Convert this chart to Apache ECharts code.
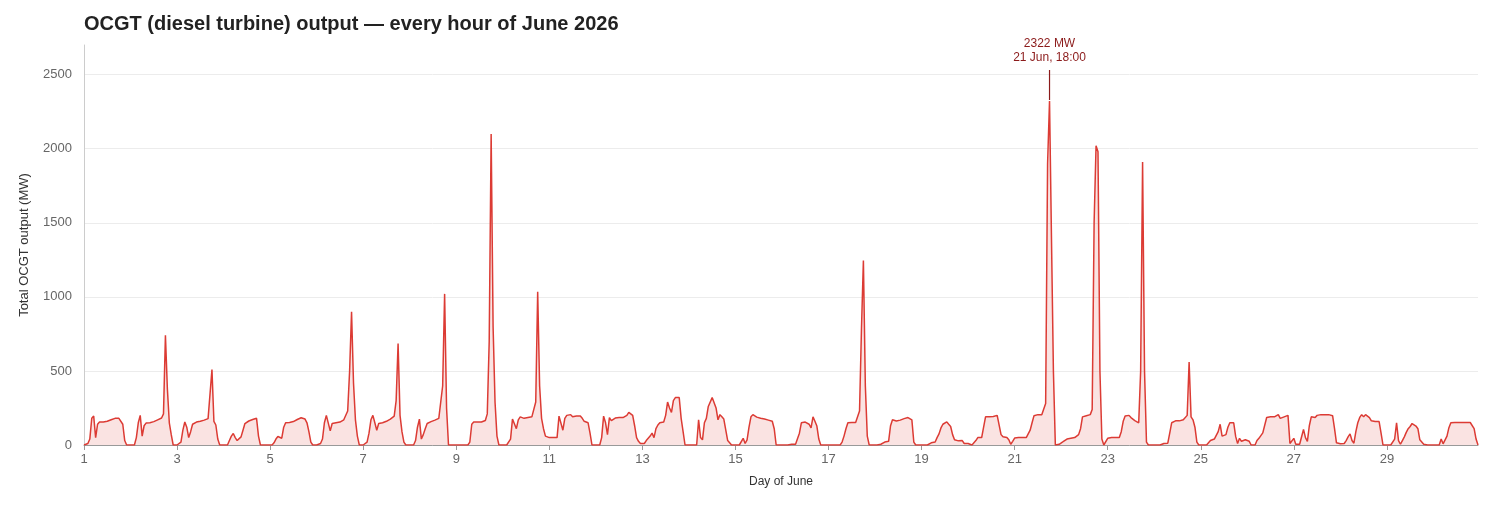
<!DOCTYPE html>
<html>
<head>
<meta charset="utf-8">
<title>OCGT output - June 2026</title>
<script src="https://cdn.jsdelivr.net/npm/echarts@6/dist/echarts.min.js"></script>
<style>
  html, body { margin: 0; padding: 0; background: #fff; }
  #ocgt-chart { width: 1496px; height: 505px; }
</style>
</head>
<body>
<div id="ocgt-chart"></div>
<script>
// total OCGT output, MW, one array per day (hours 00:00 .. 23:00)
const jun01 = [0,0,10,40,180,195,50,140,155,155,155,160,160,165,170,175,180,184,180,170,140,30,0,0];
const jun02 = [0,0,0,50,150,200,60,130,148,150,150,155,158,160,170,175,182,210,740,380,150,70,0,0];
const jun03 = [0,0,20,100,155,120,50,90,140,150,155,155,160,165,168,172,178,185,510,160,135,40,0,0];
const jun04 = [0,0,0,30,60,78,50,30,25,55,100,145,155,162,168,172,180,180,60,0,0,0,0,0];
const jun05 = [0,0,15,40,57,52,46,120,150,150,152,152,158,165,172,180,184,180,175,150,90,20,0,0];
const jun06 = [0,0,10,40,150,200,190,95,145,150,150,152,155,165,170,180,230,500,900,420,170,60,0,0];
const jun07 = [0,0,20,80,170,200,150,100,145,150,150,155,160,168,175,180,195,300,685,200,90,20,0,0];
const jun08 = [0,0,0,30,120,175,40,70,110,145,155,158,165,168,172,180,190,400,1020,250,0,0,0,0];
const jun09 = [0,0,0,0,0,0,0,20,140,155,155,155,155,155,158,165,210,700,2100,800,290,60,0,0];
const jun10 = [0,0,0,0,40,175,170,110,170,190,185,180,190,185,185,190,200,290,1035,400,180,110,60,50];
const jun11 = [50,50,50,50,50,195,200,100,180,200,205,205,190,180,195,200,195,180,160,155,150,80,0,0];
const jun12 = [0,10,0,50,195,150,70,185,165,170,182,178,185,198,185,175,200,220,210,200,130,50,25,10];
const jun13 = [0,10,30,40,60,80,50,110,135,150,152,155,200,290,250,220,300,320,325,320,180,90,0,0];
const jun14 = [0,0,0,0,0,170,50,35,150,180,260,255,320,320,250,170,205,190,175,165,30,30,0,0];
const jun15 = [0,0,0,0,45,10,35,120,190,205,195,188,182,180,178,175,172,168,165,160,110,0,0,0];
const jun16 = [0,0,0,0,0,5,8,5,0,80,150,155,155,152,140,115,190,160,128,40,0,0,0,0];
const jun17 = [0,0,0,0,0,0,0,20,60,110,150,152,152,152,152,155,230,780,1245,400,60,0,0,0];
const jun18 = [0,0,5,5,15,20,20,25,130,170,165,162,165,168,172,178,182,185,188,170,20,0,0,0];
const jun19 = [0,0,0,0,0,15,20,20,50,75,115,140,151,156,140,125,70,35,28,28,30,30,10,0];
const jun20 = [10,0,0,5,30,50,50,50,120,190,193,190,188,192,198,200,203,70,55,52,50,35,5,25];
const jun21 = [47,50,50,50,50,50,50,55,100,150,198,205,205,205,205,210,280,1900,2322,1400,500,0,0,5];
const jun22 = [15,22,30,40,43,45,47,50,58,70,110,190,198,198,188,205,240,1500,2020,1980,500,40,0,10];
const jun23 = [45,50,50,50,50,50,50,90,160,195,203,200,185,175,165,152,150,500,1910,500,20,0,0,0];
const jun24 = [0,0,0,0,0,10,12,12,80,150,162,163,163,163,165,170,178,200,560,190,170,120,20,0];
const jun25 = [0,0,0,0,0,30,35,40,42,90,140,60,60,70,120,150,152,150,58,10,45,25,30,35];
const jun26 = [30,25,0,0,0,30,45,35,82,93,186,198,190,182,190,200,205,180,180,190,203,200,10,20];
const jun27 = [45,5,5,5,5,105,50,25,130,190,198,186,200,205,205,205,205,205,205,205,198,110,15,8];
const jun28 = [8,8,10,30,55,75,30,12,90,150,186,205,190,205,200,185,163,160,158,158,158,80,0,0];
const jun29 = [0,0,0,0,40,150,30,5,30,55,85,110,125,145,138,128,110,35,28,5,0,0,0,0];
const jun30 = [0,0,0,0,40,8,5,60,117,150,152,152,152,152,152,152,152,152,152,152,150,110,40,0];

const days = [jun01, jun02, jun03, jun04, jun05, jun06, jun07, jun08, jun09, jun10,
              jun11, jun12, jun13, jun14, jun15, jun16, jun17, jun18, jun19, jun20,
              jun21, jun22, jun23, jun24, jun25, jun26, jun27, jun28, jun29, jun30];

const titleText = 'OCGT (diesel turbine) output — every hour of June 2026';
const yName = 'Total OCGT output (MW)';
const xName = 'Day of June';

// x is days elapsed since 1 Jun 00:00, so tick 0 reads "1"
let points = [];
let peak = { v: -1, d: 0, h: 0 };
days.forEach(function (row, d) {
  row.forEach(function (v, h) {
    points.push([(d * 24 + h) / 24, v]);
    if (v > peak.v) peak = { v: v, d: d, h: h };
  });
});

const fontFam = '"Liberation Sans", Arial, sans-serif';
const peakLabel = peak.v + ' MW\n' + (peak.d + 1) + ' Jun, ' + String(peak.h).padStart(2, '0') + ':00';

let myChart = echarts.init(document.getElementById('ocgt-chart'));
let option = {
  animation: false,
  textStyle: { fontFamily: fontFam },
  title: {
    text: titleText,
    left: 79,
    top: 9,
    textStyle: { fontSize: 20, fontWeight: 'bold', color: '#222', fontFamily: fontFam }
  },
  grid: { left: 84, right: 18, top: 45, bottom: 60 },
  xAxis: {
    type: 'value',
    min: 0,
    max: 'dataMax',
    interval: 2,
    name: xName,
    nameLocation: 'middle',
    nameGap: 31,
    nameTextStyle: { color: '#333', fontSize: 12 },
    axisLine: { lineStyle: { color: '#999' } },
    axisTick: { show: true, length: 5, lineStyle: { color: '#999' } },
    axisLabel: {
      color: '#666',
      fontSize: 13,
      margin: 8,
      showMaxLabel: false,
      formatter: function (v) { return String(Math.round(v) + 1); }
    },
    splitLine: { show: false }
  },
  yAxis: {
    type: 'value',
    min: 0,
    max: 2700,
    interval: 500,
    name: yName,
    nameLocation: 'middle',
    nameGap: 53,
    nameTextStyle: { color: '#333', fontSize: 13 },
    axisLine: { show: true, lineStyle: { color: '#ccc' } },
    axisTick: { show: false },
    axisLabel: {
      color: '#666',
      fontSize: 13,
      margin: 12,
      showMaxLabel: false,
      formatter: function (v) { return String(v); }
    },
    // no grid line on the 2700 top edge
    splitLine: {
      lineStyle: { color: ['#ececec', '#ececec', '#ececec', '#ececec', '#ececec', '#ececec', 'rgba(0,0,0,0)'] }
    }
  },
  series: [
    {
      type: 'line',
      data: points,
      showSymbol: false,
      lineStyle: { color: '#dc3b34', width: 1.5 },
      itemStyle: { color: '#dc3b34' },
      areaStyle: { color: 'rgba(220, 59, 52, 0.2)' },
      markPoint: {
        symbol: 'rect',
        symbolSize: [1.2, 30],
        symbolOffset: [0, -16],
        itemStyle: { color: '#8b1a1a' },
        label: {
          show: true,
          position: 'top',
          distance: 5,
          color: '#8b1a1a',
          fontSize: 12,
          lineHeight: 14,
          formatter: peakLabel
        },
        data: [{ coord: points[peak.d * 24 + peak.h] }]
      }
    }
  ]
};
myChart.setOption(option);
</script>
</body>
</html>
